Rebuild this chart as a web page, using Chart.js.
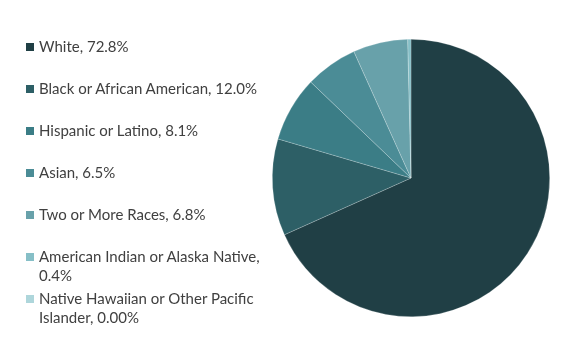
<!DOCTYPE html>
<html>
<head>
<meta charset="utf-8">
<script src="https://cdn.jsdelivr.net/npm/chart.js@4/dist/chart.umd.min.js"></script>
<style>
html,body{margin:0;padding:0;background:#fff;}
#wrap{position:relative;width:578px;height:361px;}
#legend{position:absolute;left:26px;top:0;font-family:Lato,sans-serif;font-size:15px;color:#404040;}
.item{position:absolute;left:0;white-space:nowrap;line-height:19px;}
.box{position:absolute;left:0;top:6px;width:8px;height:8px;}
.txt{position:absolute;left:13px;top:0;}
</style>
</head>
<body>
<div id="wrap">
<canvas id="myPie" width="578" height="361"></canvas>
<div id="legend"></div>
</div>
<script>
// data
const categories=[['White, 72.8%'],['Black or African American, 12.0%'],['Hispanic or Latino, 8.1%'],['Asian, 6.5%'],['Two or More Races, 6.8%'],['American Indian or Alaska Native,','0.4%'],['Native Hawaiian or Other Pacific','Islander, 0.00%']];
const values=[72.8,12.0,8.1,6.5,6.8,0.4,0.0];
const colors=['#203f45','#2d5f66','#3b7d86','#4b8c96','#68a1aa','#86bfc7','#aed6db'];

let ctx=document.getElementById('myPie').getContext('2d');
const pie=new Chart(ctx,{
	type:'pie',
	data:{
		labels:categories,
		datasets:[{
			data:values,
			backgroundColor:colors,
			borderColor:'rgba(255,255,255,0.35)',
			borderWidth:0.6
		}]
	},
	options:{
		responsive:false,
		animation:false,
		layout:{padding:{left:272,right:28,top:39,bottom:44}},
		plugins:{
			legend:{display:false},
			tooltip:{enabled:false}
		}
	}
});

// html legend on the left
let legend=document.getElementById('legend');
categories.forEach(function(lines,i){
	let item=document.createElement('div');
	item.className='item';
	item.style.top=(37+i*42)+'px';
	item.innerHTML='<span class="box" style="background:'+colors[i]+'"></span><span class="txt">'+lines.join('<br>')+'</span>';
	legend.appendChild(item);
});
</script>
</body>
</html>
